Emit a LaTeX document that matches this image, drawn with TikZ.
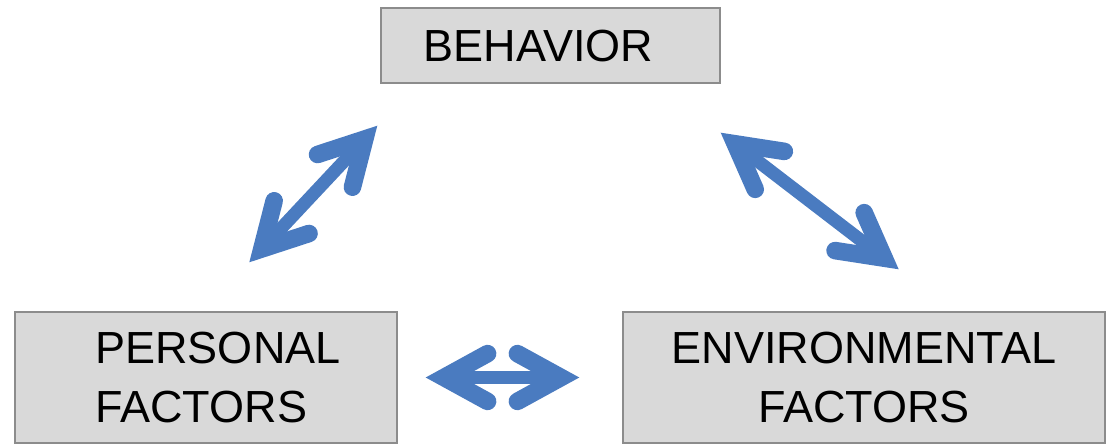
\documentclass[tikz,border=0pt]{standalone}
\usepackage{fontspec}
\setmainfont{Liberation Sans}
\usetikzlibrary{arrows.meta, positioning}
\definecolor{boxgray}{HTML}{D9D9D9}
\definecolor{edgegray}{HTML}{8C8C8C}
\definecolor{arrowblue}{HTML}{4A7BC0}
\newcommand{\pxu}{0.025cm}
\tikzset{
  factorbox/.style={draw=edgegray, fill=boxgray, line width=1pt, inner sep=0pt},
  boxtext/.style={align=left, inner sep=0pt, font=\fontsize{32}{41.3}\selectfont},
  dblarrow/.style={draw=arrowblue, line width=9.25pt, arrows={Straight Barb[length=31pt, width=34pt, line width=12.5pt, line cap=round, line join=miter]-Straight Barb[length=31pt, width=34pt, line width=12.5pt, line cap=round, line join=miter]}}
}
\begin{document}
\begin{tikzpicture}[x=\pxu, y=-\pxu]
\useasboundingbox (0,0) rectangle (1110,444);

% the three boxes
\node[factorbox, minimum width=339*\pxu, minimum height=75*\pxu,
  label={[boxtext, xshift=-12*\pxu, yshift=-1*\pxu]center:BEHAVIOR}] (behavior) at (550.5,45.5) {};
\node[factorbox, minimum width=382*\pxu, minimum height=131*\pxu,
  label={[boxtext, xshift=12*\pxu]center:{PERSONAL\\FACTORS}}] (personal) at (206,377.5) {};
\node[factorbox, minimum width=482*\pxu, minimum height=131*\pxu,
  label={[boxtext, align=center]center:{ENVIRONMENTAL\\FACTORS}}] (environ) at (864,377.5) {};

% arrow ends
\coordinate (bp) at ([shift={(-3,42)}]behavior.south west);
\coordinate (pb) at ([shift={(235,-49)}]personal.north west);
\coordinate (be) at ([shift={(0,49)}]behavior.south east);
\coordinate (eb) at ([shift={(-207,-42)}]environ.north east);
\coordinate (pe) at ([shift={(28,0)}]personal.east);
\coordinate (ep) at ([shift={(-43,0)}]environ.west);

\draw[dblarrow] (bp) -- (pb);
\draw[dblarrow] (be) -- (eb);
\draw[dblarrow] (pe) -- (ep);
\end{tikzpicture}
\end{document}
